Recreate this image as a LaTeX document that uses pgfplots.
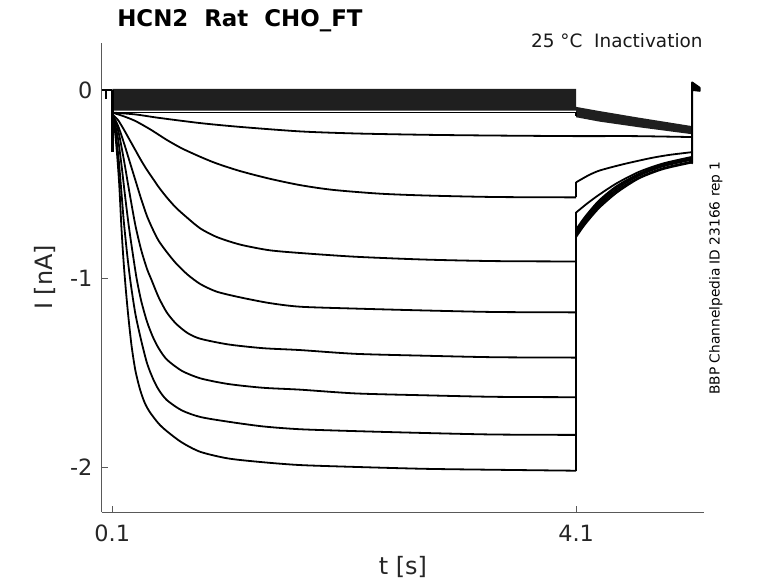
\documentclass[border=0pt]{standalone}
\usepackage{fontspec}
\setmainfont{DejaVu Sans}
\usepackage{pgfplots}
\pgfplotsset{compat=1.18}
\tikzset{tr/.style={black, line width=1.8bp, line join=round, mark=none},
         trs/.style={tr, smooth, tension=0.45}}
\begin{document}
\begin{tikzpicture}
\path[use as bounding box] (0,0) rectangle (778bp,583bp);
\begin{axis}[
  at={(101.7bp,71bp)}, anchor=south west,
  width=602.6bp, height=469bp, scale only axis,
  xmin=0.009, xmax=5.205, ymin=-2.239, ymax=0.249,
  axis lines=left, axis line style={-, draw=black!65, line width=0.6bp},
  clip mode=individual,
  xtick={0.1,4.1}, xticklabels={0.1,4.1},
  ytick={-2,-1,0}, yticklabels={-2,-1,0},
  tick align=inside, major tick length=6bp,
  tick style={black!65, line width=0.6bp},
  xticklabel style={font=\fontsize{22.5}{27}\selectfont, text=black!85, anchor=north, inner sep=0pt, yshift=-13bp},
  yticklabel style={font=\fontsize{22.5}{27}\selectfont, text=black!85, anchor=east, inner sep=0pt, xshift=-9bp},
  xlabel={t [s]},
  xlabel style={at={(axis description cs:0.5,-0.1173)}, anchor=center, font=\fontsize{24}{29}\selectfont, text=black!85},
  ylabel={I [nA]},
  ylabel style={at={(axis description cs:-0.0941,0.5)}, anchor=center, font=\fontsize{24}{29}\selectfont, text=black!85},
]
% noisy band of small traces
\addplot[fill=black!88, draw=none] coordinates {(0.1,0.005) (4.1,0.005) (4.1,-0.09) (4.3,-0.112) (4.64,-0.147) (5.1,-0.192) (5.1,-0.235) (4.64,-0.198) (4.3,-0.168) (4.1,-0.145) (4.1,-0.11) (0.1,-0.11)} -- cycle;
\addplot[tr] coordinates {(0.1,-0.12) (4.1,-0.12) (4.1,-0.14)};
% holding segment and onset transient
\addplot[tr] coordinates {(0.009,0) (0.1,0)};
\addplot[black, line width=2.8bp] coordinates {(0.101,0) (0.101,-0.33)};
\addplot[black, line width=2.5bp] coordinates {(0.045,0) (0.045,-0.05)};
% H  (-0.24)
\addplot[trs] coordinates {(0.1,-0.12) (0.3,-0.13) (0.5,-0.148) (0.86,-0.176) (1.2,-0.196) (1.72,-0.22) (2.2,-0.231) (2.8,-0.238) (3.4,-0.242) (4.1,-0.245) (4.6,-0.245) (5.1,-0.25)};
% G  (-0.57)
\addplot[trs] coordinates {(0.1,-0.12) (0.2,-0.14) (0.3,-0.165) (0.43,-0.21) (0.57,-0.265) (0.7,-0.31) (0.86,-0.355) (1.0,-0.39) (1.2,-0.43) (1.45,-0.47) (1.72,-0.505) (2.0,-0.53) (2.4,-0.55) (2.8,-0.56) (3.4,-0.568) (4.1,-0.57)};
\addplot[tr] coordinates {(4.1,-0.57) (4.1,-0.49)};
\addplot[trs] coordinates {(4.1,-0.49) (4.2,-0.455) (4.3,-0.428) (4.5,-0.395) (4.74,-0.362) (4.9,-0.345) (5.1,-0.33)};
% F  (-0.91)
\addplot[trs] coordinates {(0.1,-0.13) (0.15,-0.16) (0.2,-0.21) (0.25,-0.265) (0.3,-0.32) (0.35,-0.375) (0.4,-0.425) (0.45,-0.47) (0.5,-0.515) (0.57,-0.57) (0.65,-0.625) (0.75,-0.68) (0.86,-0.735) (1.0,-0.78) (1.2,-0.82) (1.45,-0.85) (1.72,-0.865) (2.2,-0.885) (2.8,-0.9) (3.4,-0.908) (4.1,-0.91)};
\addplot[tr] coordinates {(4.1,-0.91) (4.1,-0.65)};
\addplot[trs] coordinates {(4.1,-0.65) (4.2,-0.6) (4.3,-0.555) (4.45,-0.495) (4.64,-0.435) (4.85,-0.39) (5.1,-0.355)};
% E  (-1.18)
\addplot[trs] coordinates {(0.1,-0.13) (0.15,-0.19) (0.2,-0.28) (0.25,-0.38) (0.3,-0.48) (0.35,-0.58) (0.4,-0.67) (0.45,-0.74) (0.5,-0.8) (0.57,-0.86) (0.65,-0.92) (0.75,-0.98) (0.86,-1.03) (1.0,-1.07) (1.2,-1.1) (1.45,-1.13) (1.72,-1.15) (2.2,-1.16) (2.8,-1.17) (3.4,-1.178) (4.1,-1.18)};
\addplot[tr] coordinates {(4.1,-1.18) (4.1,-0.74)};
\addplot[trs] coordinates {(4.1,-0.74) (4.15,-0.695) (4.2,-0.655) (4.3,-0.585) (4.45,-0.51) (4.64,-0.445) (4.85,-0.395) (5.1,-0.36)};
% D  (-1.42)
\addplot[trs] coordinates {(0.1,-0.13) (0.13,-0.17) (0.16,-0.24) (0.2,-0.37) (0.25,-0.55) (0.3,-0.72) (0.35,-0.85) (0.4,-0.95) (0.44,-1.01) (0.5,-1.1) (0.57,-1.18) (0.65,-1.24) (0.75,-1.29) (0.86,-1.32) (1.1,-1.35) (1.4,-1.37) (1.72,-1.38) (2.2,-1.4) (2.8,-1.41) (3.4,-1.418) (4.1,-1.42)};
\addplot[tr] coordinates {(4.1,-1.42) (4.1,-0.75)};
\addplot[trs] coordinates {(4.1,-0.75) (4.15,-0.705) (4.2,-0.665) (4.3,-0.595) (4.45,-0.515) (4.64,-0.45) (4.85,-0.4) (5.1,-0.365)};
% C  (-1.63)
\addplot[trs] coordinates {(0.1,-0.14) (0.12,-0.17) (0.15,-0.26) (0.18,-0.4) (0.21,-0.56) (0.24,-0.71) (0.27,-0.84) (0.31,-1.0) (0.35,-1.12) (0.4,-1.23) (0.45,-1.31) (0.5,-1.37) (0.57,-1.43) (0.7,-1.49) (0.86,-1.53) (1.1,-1.56) (1.4,-1.58) (1.72,-1.59) (2.2,-1.61) (2.8,-1.62) (3.4,-1.628) (4.1,-1.63)};
\addplot[tr] coordinates {(4.1,-1.63) (4.1,-0.76)};
\addplot[trs] coordinates {(4.1,-0.76) (4.15,-0.715) (4.2,-0.675) (4.3,-0.605) (4.45,-0.525) (4.64,-0.455) (4.85,-0.405) (5.1,-0.37)};
% B  (-1.83)
\addplot[trs] coordinates {(0.1,-0.14) (0.12,-0.19) (0.14,-0.28) (0.16,-0.4) (0.18,-0.55) (0.2,-0.7) (0.23,-0.88) (0.26,-1.03) (0.3,-1.19) (0.35,-1.33) (0.4,-1.45) (0.45,-1.53) (0.5,-1.59) (0.57,-1.645) (0.7,-1.7) (0.86,-1.735) (1.1,-1.76) (1.4,-1.785) (1.72,-1.8) (2.2,-1.81) (2.8,-1.82) (3.4,-1.828) (4.1,-1.83)};
\addplot[tr] coordinates {(4.1,-1.83) (4.1,-0.77)};
\addplot[trs] coordinates {(4.1,-0.77) (4.15,-0.725) (4.2,-0.685) (4.3,-0.615) (4.45,-0.535) (4.64,-0.465) (4.85,-0.415) (5.1,-0.38)};
% A  (-2.02)
\addplot[trs] coordinates {(0.1,-0.14) (0.12,-0.2) (0.14,-0.33) (0.16,-0.5) (0.18,-0.74) (0.2,-0.93) (0.22,-1.08) (0.24,-1.21) (0.267,-1.36) (0.3,-1.49) (0.34,-1.59) (0.38,-1.66) (0.425,-1.71) (0.5,-1.77) (0.57,-1.81) (0.7,-1.87) (0.86,-1.92) (1.1,-1.955) (1.4,-1.975) (1.72,-1.99) (2.2,-2.0) (2.8,-2.01) (3.4,-2.015) (4.1,-2.02)};
\addplot[tr] coordinates {(4.1,-2.02) (4.1,-0.78)};
\addplot[trs] coordinates {(4.1,-0.78) (4.15,-0.735) (4.2,-0.695) (4.3,-0.625) (4.45,-0.545) (4.64,-0.47) (4.85,-0.42) (5.1,-0.385)};
% final step
\addplot[tr, fill=black] coordinates {(5.1,-0.39) (5.1,0.04) (5.165,0.012) (5.165,-0.005) (5.1,0.0)} -- cycle;
% texts
\node[anchor=base west, font=\bfseries\fontsize{23}{28}\selectfont] at (axis description cs:0.02,1.036) {HCN2\ \ Rat\ \ CHO\_FT};
\node[anchor=base east, font=\fontsize{18.5}{22}\selectfont, text=black!90] at (axis description cs:1.003,0.9908) {25 °C\ \ Inactivation};
\node[rotate=90, anchor=center, font=\fontsize{13.8}{16}\selectfont] at (axis description cs:1.019,0.499) {BBP Channelpedia ID 23166 rep 1};
\end{axis}
\end{tikzpicture}
\end{document}
